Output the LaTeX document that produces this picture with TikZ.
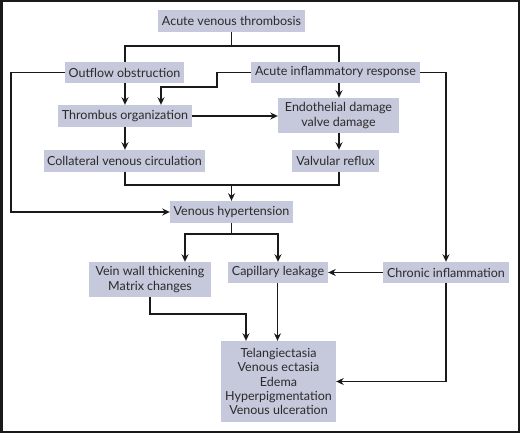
\documentclass[tikz,border=0pt]{standalone}
\usepackage{fontspec}
\setmainfont{Lato}
\usetikzlibrary{arrows.meta}
\definecolor{boxfill}{HTML}{C6C8DB}
\definecolor{txt}{HTML}{2B2B2B}
\definecolor{linec}{HTML}{1A1A1A}
\begin{document}
\begin{tikzpicture}[x=1pt,y=-1pt,
  box/.style={fill=boxfill, text=txt, inner sep=0pt, align=center, font=\fontsize{12.5}{14.4}\selectfont},
  conn/.style={draw=linec, line width=1.8pt},
  arr/.style={conn, -{Stealth[length=7.5pt,width=7pt]}}]
\useasboundingbox (0,0) rectangle (520,433);
\draw[line width=2.5pt, draw=linec] (1.25,1.25) rectangle (518.75,431.75);

\node[box, minimum width=147pt, minimum height=22pt] (avt) at (231.5,21) {Acute venous thrombosis};
\node[box, minimum width=119pt, minimum height=21pt] (oo) at (124.5,72.5) {Outflow obstruction};
\node[box, minimum width=169pt, minimum height=21pt] (air) at (335.5,72.5) {Acute inflammatory response};
\node[box, minimum width=134pt, minimum height=22pt] (to) at (125,116) {Thrombus organization};
\node[box, minimum width=121pt, minimum height=35pt] (ed) at (338.5,115.5) {Endothelial damage\\valve damage};
\node[box, minimum width=161pt, minimum height=22pt] (cvc) at (124.5,161) {Collateral venous circulation};
\node[box, minimum width=87pt, minimum height=22pt] (vr) at (335.5,161) {Valvular reflux};
\node[box, minimum width=123pt, minimum height=22pt] (vh) at (231.5,212) {Venous hypertension};
\node[box, minimum width=122pt, minimum height=35pt] (vwt) at (150,279.5) {Vein wall thickening\\Matrix changes};
\node[box, minimum width=100pt, minimum height=21pt] (cl) at (278,272.5) {Capillary leakage};
\node[box, minimum width=126pt, minimum height=21pt] (ci) at (446,272.5) {Chronic inflammation};
\node[box, minimum width=115pt, minimum height=81pt] (tel) at (278.5,381.5) {Telangiectasia\\Venous ectasia\\Edema\\Hyperpigmentation\\Venous ulceration};

% top split
\draw[conn] (avt.south) -- ++(0,14) coordinate (j1);
\draw[conn] ([xshift=0.5pt]oo.north) |- (j1);
\draw[conn] (j1) -| ([xshift=3.5pt]air.north);

% outflow obstruction loop to venous hypertension
\draw[arr] (oo.west) -- ++(-54,0) |- (vh.west);
\draw[arr] ([xshift=0.5pt]oo.south) -- ([xshift=0.5pt]oo.south |- to.north);

% acute inflammatory response
\draw[arr] (air.west) -- ++(-34,0) -- ++(0,14.5) -| ([xshift=36pt]to.north);
\draw[arr] ([xshift=3.5pt]air.south) -- ([xshift=3.5pt]air.south |- ed.north);
\draw[arr] (air.east) -| (ci.north);

% thrombus organization
\draw[arr] (to.east) -- (to.east -| ed.west);
\draw[arr] (to.south) -- (to.south |- cvc.north);

% endothelial
\draw[arr] ([xshift=0.5pt]ed.south) -- ([xshift=0.5pt]ed.south |- vr.north);

% merge to venous hypertension
\path (cvc.south) ++(0.5,13) coordinate (m2);
\coordinate (j2) at (m2 -| vh.north);
\draw[conn] ([xshift=0.5pt]cvc.south) -- (m2) -| ([xshift=3.5pt]vr.south);
\draw[arr] (j2) -- (vh.north);

% split from venous hypertension
\draw[conn] (vh.south) -- ++(0,11) coordinate (j3);
\draw[arr] (j3) -| ([xshift=35pt]vwt.north);
\draw[arr] (j3) -| (cl.north);

% chronic inflammation
\draw[arr] (ci.west) -- (cl.east);
\draw[arr] (ci.south) |- (tel.east);

% into telangiectasia box
\draw[arr] (vwt.south) -- ++(0,17) -| ([xshift=-32.5pt]tel.north);
\draw[arr] ([xshift=-0.5pt]cl.south) -- ([xshift=-0.5pt]cl.south |- tel.north);
\end{tikzpicture}
\end{document}
